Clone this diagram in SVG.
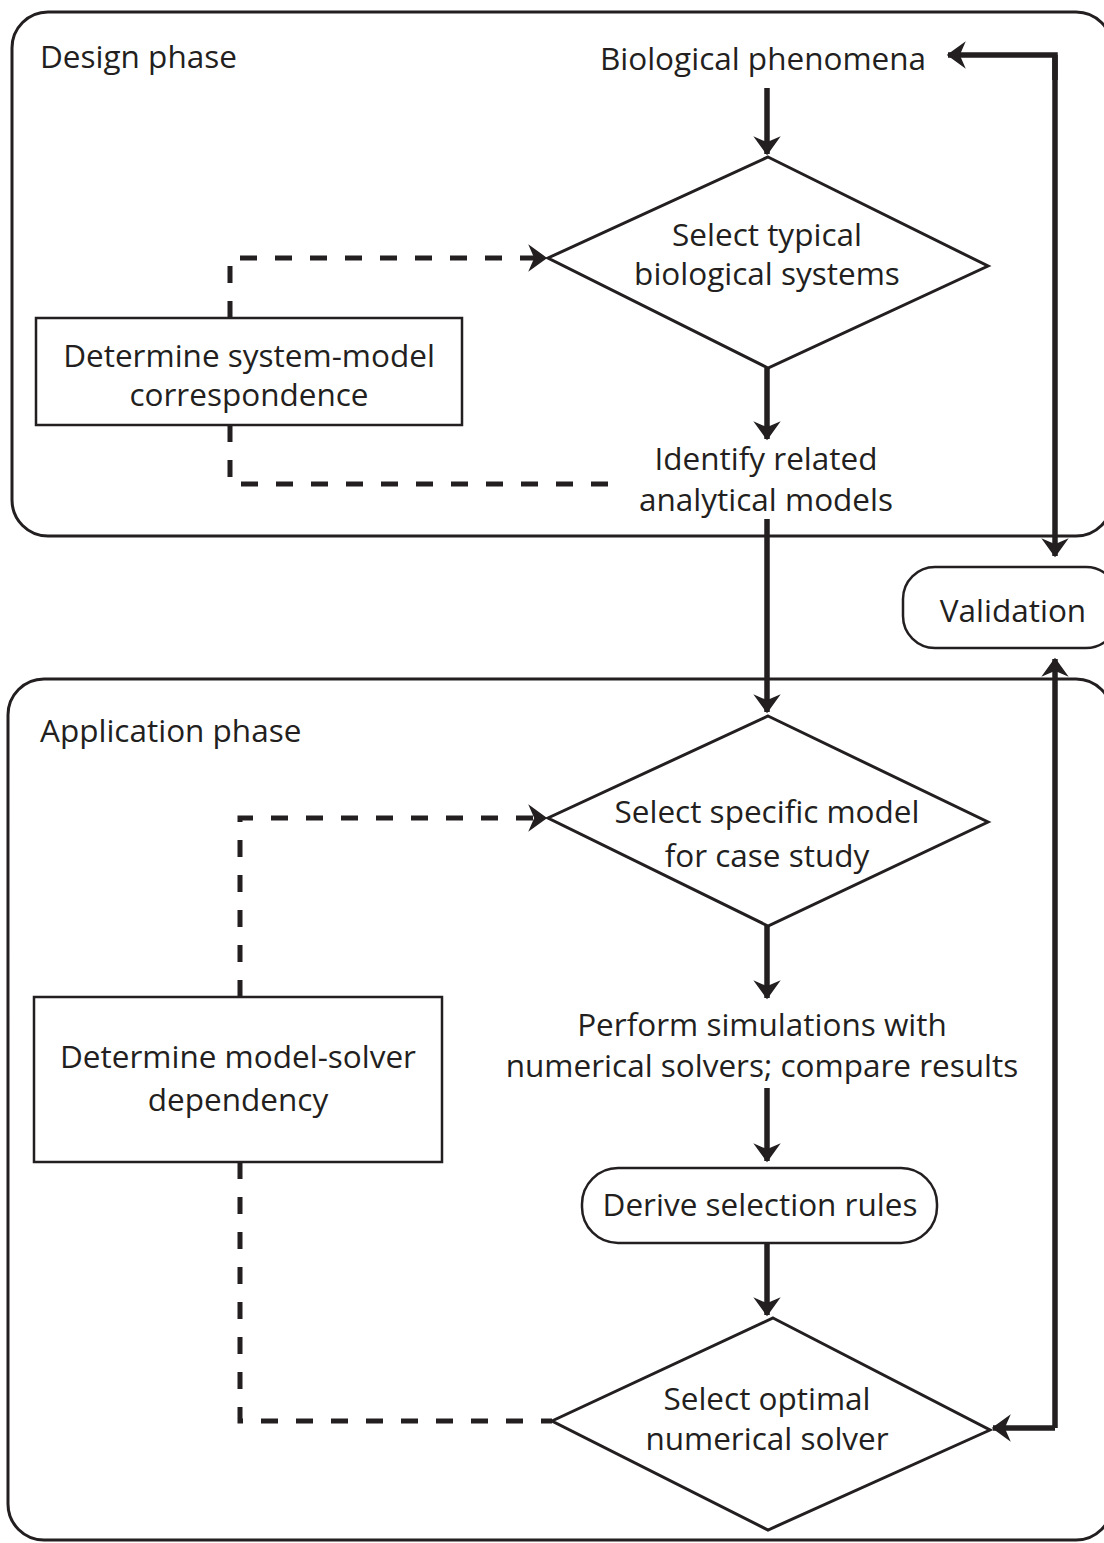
<svg xmlns="http://www.w3.org/2000/svg" width="1104" height="1543" viewBox="0 0 1104 1543">
<style>
text{font-family:"Open Sans","Noto Sans",sans-serif;font-size:31.5px;fill:#231f20}
.c{text-anchor:middle}
.border{fill:none;stroke:#231f20;stroke-width:3}
.box{fill:#fff;stroke:#231f20;stroke-width:2.5}
.dia{fill:#fff;stroke:#231f20;stroke-width:3}
.arrow{fill:none;stroke:#231f20;stroke-width:5.5;marker-end:url(#ah)}
.dash{fill:none;stroke:#231f20;stroke-width:5;stroke-dasharray:17 18}
.dasharrow{fill:none;stroke:#231f20;stroke-width:5;stroke-dasharray:17 18;marker-end:url(#ah)}
</style>
<defs>
<marker id="ah" markerUnits="userSpaceOnUse" markerWidth="34" markerHeight="34" viewBox="-24 -17 28 34" refX="0" refY="0" orient="auto">
<path d="M0,0 L-16,-11.5 L-11,0 L-16,11.5 Z" fill="#231f20" stroke="#231f20" stroke-width="1.5" stroke-linejoin="miter"/>
</marker>
</defs>
<rect width="1104" height="1543" fill="#fff"/>
<g id="design-phase">
<rect class="border" x="12" y="12" width="1100" height="524" rx="36"/>
<text x="40" y="68">Design phase</text>
</g>
<g id="application-phase">
<rect class="border" x="8" y="679" width="1104" height="861" rx="36"/>
<text x="40" y="742">Application phase</text>
</g>
<g id="connectors">
<path class="arrow" d="M767,88 V154"/>
<path class="arrow" d="M767,368 V439"/>
<path class="arrow" d="M767,519 V712"/>
<path class="arrow" d="M767,926 V998"/>
<path class="arrow" d="M767,1088 V1161"/>
<path class="arrow" d="M767,1243 V1315"/>
<path class="arrow" d="M1055,80 V55 H948"/>
<path class="arrow" d="M1055,55 V556"/>
<path class="arrow" d="M1055,1428 V659"/>
<path class="arrow" d="M1055,1428 H993"/>
<path class="dasharrow" d="M230,318 V258 H546"/>
<path class="dash" d="M230,425 V484 H620"/>
<path class="dasharrow" d="M240,997 V818 H546"/>
<path class="dash" d="M240,1162 V1421 H552"/>
</g>
<g id="biological-phenomena">
<text class="c" x="763" y="70">Biological phenomena</text>
</g>
<g id="select-typical">
<polygon class="dia" points="768,157 988,266 768,368 548,258"/>
<text class="c" x="767" y="246">Select typical</text>
<text class="c" x="767" y="285">biological systems</text>
</g>
<g id="system-model">
<rect class="box" x="36" y="318" width="426" height="107"/>
<text class="c" x="249" y="367">Determine system-model</text>
<text class="c" x="249" y="406">correspondence</text>
</g>
<g id="identify">
<text class="c" x="766" y="470">Identify related</text>
<text class="c" x="766" y="511">analytical models</text>
</g>
<g id="validation">
<rect class="box" x="903" y="567" width="215" height="81" rx="32"/>
<text class="c" x="1013" y="622">Validation</text>
</g>
<g id="select-specific">
<polygon class="dia" points="768,716 988,822 768,926 548,818"/>
<text class="c" x="767" y="823">Select specific model</text>
<text class="c" x="767" y="867">for case study</text>
</g>
<g id="perform">
<text class="c" x="762" y="1036">Perform simulations with</text>
<text class="c" x="762" y="1077">numerical solvers; compare results</text>
</g>
<g id="model-solver">
<rect class="box" x="34" y="997" width="408" height="165"/>
<text class="c" x="238" y="1068">Determine model-solver</text>
<text class="c" x="238" y="1111">dependency</text>
</g>
<g id="derive">
<rect class="box" x="582" y="1168" width="355" height="75" rx="36"/>
<text class="c" x="760" y="1216">Derive selection rules</text>
</g>
<g id="select-optimal">
<polygon class="dia" points="773,1318 990,1430 768,1530 552,1421"/>
<text class="c" x="767" y="1410">Select optimal</text>
<text class="c" x="767" y="1450">numerical solver</text>
</g>
</svg>
